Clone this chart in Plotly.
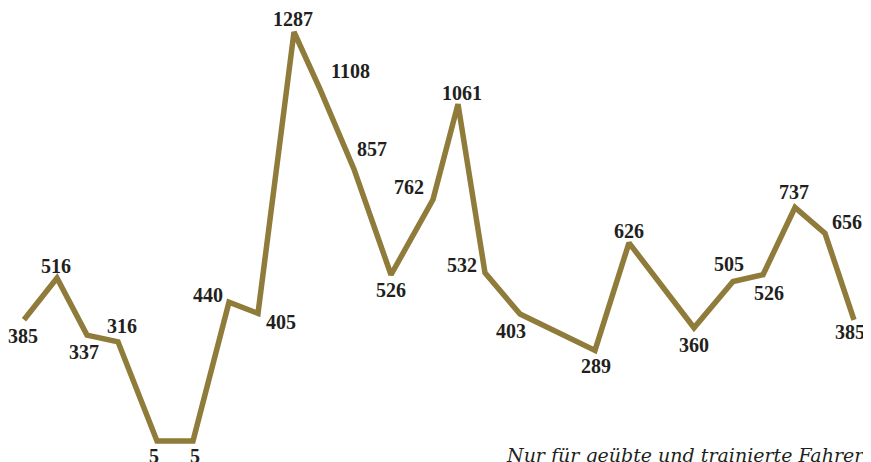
import plotly.graph_objects as go

# Distance along the route (arbitrary km-like units)
distance = [0.0, 3.3, 6.3, 9.4, 13.3, 16.9, 20.5, 23.4, 27.0, 29.6, 33.0, 36.7,
            40.9, 43.4, 46.1, 49.6, 57.1, 60.5, 67.0, 70.9, 73.9, 77.1, 80.1, 83.0]
# Elevation in metres (labels)
elevation = [385, 516, 337, 316, 5, 5, 440, 405, 1287, 1108, 857, 526,
             762, 1061, 532, 403, 289, 626, 360, 505, 526, 737, 656, 385]

# label offsets in pixels (dx right, dy down) - styling only
label_dx = [-1, -1, -3, 4, -3, 2, -21, 23, -1, 30, 18, 0,
            -24, 4, -23, -9, 1, 0, 0, -4, 6, -1, 22, -4]
label_dy = [16, -12, 17, -16, 15, 15, -7, 9, -13, -18, -20, 15,
            -12, -11, -8, 17, 16, -12, 17, -17, 18, -15, -11, 12]

note = "Nur für geübte und trainierte Fahrer"

LINE = "#8F7B3A"
TEXT = "#231F20"

fig = go.Figure()
fig.add_trace(go.Scatter(
    x=distance, y=elevation, mode="lines",
    line=dict(color=LINE, width=5.5),
    hoverinfo="skip", showlegend=False,
))

for x, y, dx, dy in zip(distance, elevation, label_dx, label_dy):
    fig.add_annotation(
        x=x, y=y, text=str(y), showarrow=False,
        xanchor="center", yanchor="middle",
        xshift=dx, yshift=-dy,
        font=dict(family="Liberation Serif", size=20, color=TEXT, weight="bold"),
    )

fig.add_annotation(
    xref="paper", yref="paper", x=1.0, y=0.0, xanchor="right", yanchor="bottom",
    xshift=-4, yshift=-6, text="<i>" + note + "</i>", showarrow=False,
    font=dict(family="DejaVu Serif", size=19, color=TEXT),
)

fig.update_layout(
    width=863, height=454,
    margin=dict(l=0, r=0, t=0, b=0),
    paper_bgcolor="white", plot_bgcolor="white",
    xaxis=dict(range=[-1.6, 84.7], visible=False, fixedrange=True),
    yaxis=dict(range=[-60.8, 1362.2], visible=False, fixedrange=True),
)

fig.write_html("out.html")
